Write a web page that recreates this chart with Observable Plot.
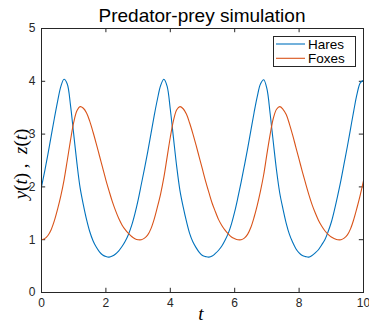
<!DOCTYPE html>
<html>
<head>
<meta charset="utf-8">
<script src="https://cdn.jsdelivr.net/npm/d3@7"></script>
<script src="https://cdn.jsdelivr.net/npm/@observablehq/plot@0.6"></script>
<style>
  html, body { margin: 0; padding: 0; background: #fff; }
</style>
</head>
<body>
<div id="chart"></div>
<script>
// Lotka–Volterra predator-prey populations, sampled every 0.1 time units
const title = "Predator-prey simulation";
const seriesNames = ["Hares", "Foxes"];
const seriesColors = ["#0072BD", "#D95319"];
const xTicks = [0, 2, 4, 6, 8, 10];
const yTicks = [0, 1, 2, 3, 4, 5];

const t = d3.range(101).map(i => i / 10);

const hares = [
  2.00, 2.30, 2.62, 2.96, 3.30, 3.62, 3.90, 4.04, 3.95, 3.55,
  3.00, 2.45, 1.98, 1.66, 1.38, 1.15, 0.98, 0.86, 0.77, 0.71,
  0.68, 0.67, 0.69, 0.73, 0.79, 0.87, 0.97, 1.10, 1.27, 1.49,
  1.75, 2.05, 2.35, 2.67, 3.01, 3.35, 3.66, 3.92, 4.04, 3.91,
  3.47, 2.92, 2.38, 1.93, 1.62, 1.35, 1.12, 0.96, 0.85, 0.76,
  0.70, 0.68, 0.67, 0.69, 0.74, 0.80, 0.88, 0.99, 1.12, 1.30,
  1.53, 1.80, 2.09, 2.40, 2.72, 3.06, 3.40, 3.71, 3.95, 4.03,
  3.86, 3.39, 2.84, 2.31, 1.88, 1.58, 1.31, 1.10, 0.95, 0.83,
  0.75, 0.70, 0.68, 0.67, 0.70, 0.75, 0.81, 0.90, 1.00, 1.15,
  1.33, 1.57, 1.84, 2.13, 2.45, 2.77, 3.11, 3.45, 3.76, 3.97,
  4.02
];

const foxes = [
  1.00, 1.02, 1.08, 1.19, 1.36, 1.58, 1.83, 2.13, 2.50, 2.88,
  3.22, 3.44, 3.52, 3.49, 3.40, 3.24, 3.04, 2.82, 2.59, 2.36,
  2.13, 1.92, 1.72, 1.55, 1.40, 1.28, 1.19, 1.12, 1.06, 1.02,
  1.00, 1.00, 1.03, 1.09, 1.21, 1.39, 1.62, 1.87, 2.18, 2.56,
  2.94, 3.26, 3.46, 3.52, 3.48, 3.38, 3.21, 3.01, 2.79, 2.56,
  2.33, 2.10, 1.89, 1.69, 1.53, 1.38, 1.27, 1.18, 1.11, 1.05,
  1.02, 1.00, 1.00, 1.03, 1.10, 1.23, 1.42, 1.65, 1.92, 2.23,
  2.62, 2.99, 3.30, 3.47, 3.52, 3.47, 3.37, 3.19, 2.98, 2.75,
  2.52, 2.29, 2.07, 1.86, 1.67, 1.51, 1.37, 1.26, 1.17, 1.10,
  1.05, 1.02, 1.00, 1.00, 1.03, 1.09, 1.21, 1.39, 1.61, 1.85,
  2.12
];

const rows = t.flatMap((ti, i) => [
  {t: ti, v: hares[i], s: seriesNames[0]},
  {t: ti, v: foxes[i], s: seriesNames[1]}
]);

const axisColor = "#262626";
const sans = "'Liberation Sans', Arial, Helvetica, sans-serif";
const serif = "'Liberation Serif', 'Times New Roman', serif";

const chart = Plot.plot({
  width: 369,
  height: 327,
  marginLeft: 41,
  marginRight: 6,
  marginTop: 28,
  marginBottom: 35,
  x: {domain: [0, 10]},
  y: {domain: [0, 5]},
  color: {domain: seriesNames, range: seriesColors},
  style: {fontFamily: sans, fontSize: "12px", color: axisColor, background: "#fff"},
  marks: [
    Plot.axisX(xTicks, {tickSize: 0, tickPadding: 6, label: null, fontSize: 12, tickFormat: d => String(d)}),
    Plot.axisY(yTicks, {tickSize: 0, tickPadding: 6, label: null, fontSize: 12, tickFormat: d => String(d)}),
    // inward ticks on all four sides of the box
    Plot.ruleX(xTicks, {y1: 0, y2: 0.08, stroke: axisColor}),
    Plot.ruleX(xTicks, {y1: 5, y2: 4.92, stroke: axisColor}),
    Plot.ruleY(yTicks, {x1: 0, x2: 0.13, stroke: axisColor}),
    Plot.ruleY(yTicks, {x1: 10, x2: 9.87, stroke: axisColor}),
    Plot.line(rows, {x: "t", y: "v", z: "s", stroke: "s", strokeWidth: 1.1, curve: "catmull-rom"}),
    Plot.frame({stroke: axisColor})
  ]
});

document.getElementById("chart").appendChild(chart);

const svg = d3.select(chart);

// title
svg.append("text")
  .attr("x", 202).attr("y", 22)
  .attr("text-anchor", "middle")
  .attr("font-family", sans)
  .attr("font-size", 19)
  .attr("fill", "#000")
  .text(title);

// y-axis label: y(t), z(t)
const yl = svg.append("text")
  .attr("transform", "translate(27,164) rotate(-90)")
  .attr("text-anchor", "middle")
  .attr("font-family", serif)
  .attr("font-size", 19)
  .attr("fill", "#000");
[["y", true], ["(", false], ["t", true], [")", false], [" ,\u2002", false],
 ["z", true], ["(", false], ["t", true], [")", false]].forEach(([s, it]) => {
  yl.append("tspan").attr("font-style", it ? "italic" : "normal").text(s);
});

// x-axis label
svg.append("text")
  .attr("x", 201).attr("y", 320)
  .attr("text-anchor", "middle")
  .attr("font-family", serif)
  .attr("font-style", "italic")
  .attr("font-size", 19)
  .attr("fill", "#000")
  .text("t");

// legend
const lg = svg.append("g");
lg.append("rect")
  .attr("x", 273.5).attr("y", 36.5).attr("width", 82).attr("height", 30)
  .attr("fill", "#fff").attr("stroke", axisColor);
seriesNames.forEach((name, i) => {
  const cy = 44 + i * 14.3;
  lg.append("line")
    .attr("x1", 276).attr("x2", 305).attr("y1", cy).attr("y2", cy)
    .attr("stroke", seriesColors[i]).attr("stroke-width", 1.1);
  lg.append("text")
    .attr("x", 308).attr("y", cy + 4.6)
    .attr("text-anchor", "start")
    .attr("font-family", sans).attr("font-size", 13.5)
    .attr("fill", "#000")
    .text(name);
});
</script>
</body>
</html>
